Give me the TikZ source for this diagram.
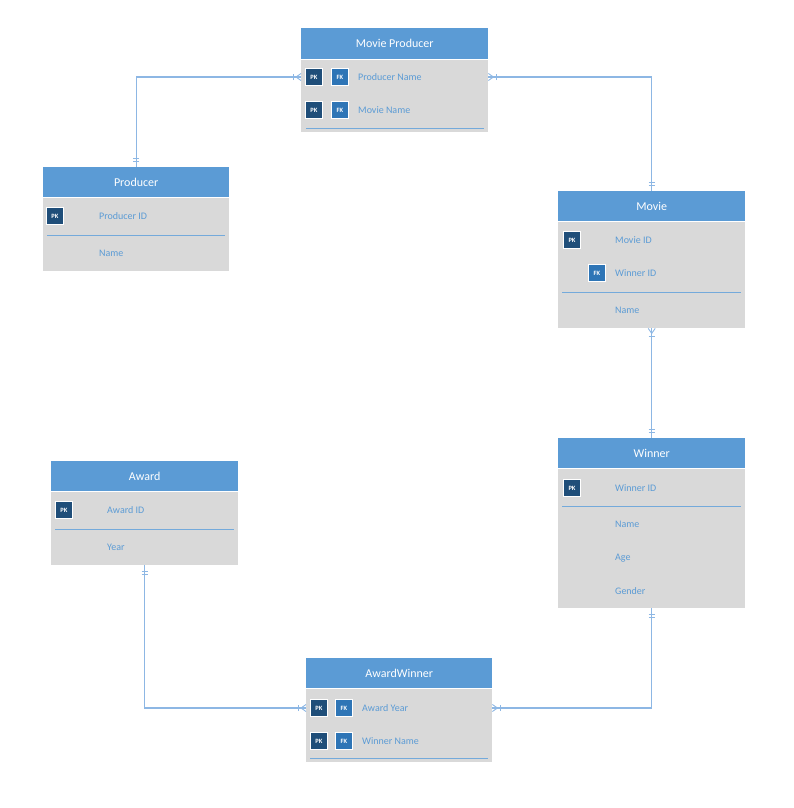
\documentclass[tikz,border=0pt]{standalone}
\usepackage{fontspec}
\setmainfont{Carlito}
\usetikzlibrary{decorations.markings}
\definecolor{headblue}{HTML}{5B9BD5}
\definecolor{bodygray}{HTML}{D9D9D9}
\definecolor{pkblue}{HTML}{1F4E79}
\definecolor{fkblue}{HTML}{2E75B6}
\definecolor{fieldblue}{HTML}{5B9BD5}
\definecolor{linkblue}{HTML}{8DB7E4}
\tikzset{
    tbl-head/.style = {fill=headblue, text=white, anchor=north west, inner sep=0pt, minimum width=187pt, minimum height=31pt, font=\fontsize{12}{14}\selectfont},
    tbl-body/.style = {fill=bodygray, anchor=north west, inner sep=0pt, minimum width=187pt},
    pk/.style = {fill=pkblue, draw=white, line width=0.8pt, minimum size=17pt, inner sep=0pt, text=white, font=\fontsize{6.5}{6.5}\selectfont\bfseries},
    fk/.style = {pk, fill=fkblue},
    field/.style = {anchor=west, inner sep=0pt, text=fieldblue, font=\fontsize{10}{12}\selectfont},
    sep-line/.style = {draw=fieldblue!85, line width=0.5pt},
    link/.style = {draw=linkblue, line width=1.4pt},
    foot/.style = {draw=linkblue, line width=0.9pt},
    one start/.style = {postaction={decorate, decoration={markings,
        mark=at position 6pt with {\draw[foot] (0,-3pt) -- (0,3pt);},
        mark=at position 9pt with {\draw[foot] (0,-3pt) -- (0,3pt);}}}},
    one end/.style = {postaction={decorate, decoration={markings,
        mark=at position -9pt with {\draw[foot] (0,-3pt) -- (0,3pt);},
        mark=at position -6pt with {\draw[foot] (0,-3pt) -- (0,3pt);}}}},
    many start/.style = {postaction={decorate, decoration={markings,
        mark=at position 5pt with {\draw[foot] (-5pt,-3.5pt) -- (0,0) -- (-5pt,3.5pt);},
        mark=at position 8pt with {\draw[foot] (0,-3pt) -- (0,3pt);}}}},
    many end/.style = {postaction={decorate, decoration={markings,
        mark=at position -8pt with {\draw[foot] (0,-3pt) -- (0,3pt);},
        mark=at position -5pt with {\draw[foot] (5pt,-3.5pt) -- (0,0) -- (5pt,3.5pt);}}}},
}

\begin{document}
\begin{tikzpicture}[x=1pt, y=-1pt]
\useasboundingbox (0,0) rectangle (793,808);

% Movie Producer
\node[tbl-head] (mp-head) at (301,28) {Movie Producer};
\node[tbl-body, minimum height=72pt] (mp-body) at (301,60) {};
\node[pk] (mp-pk1) at (314,77) {PK};
\node[fk] (mp-fk1) at (340,77) {FK};
\node[field] (mp-f1) at (358,77) {Producer Name};
\node[pk] (mp-pk2) at (314,110) {PK};
\node[fk] (mp-fk2) at (340,110) {FK};
\node[field] (mp-f2) at (358,110) {Movie Name};
\draw[sep-line] (306,128) -- (484,128);

% Producer
\node[tbl-head, minimum width=186pt, minimum height=30pt] (prod-head) at (43,167) {Producer};
\node[tbl-body, minimum width=186pt, minimum height=73pt] (prod-body) at (43,198) {};
\node[pk] (prod-pk) at (55,216) {PK};
\node[field] (prod-f1) at (99,216) {Producer ID};
\draw[sep-line] (47,235) -- (225,235);
\node[field] (prod-f2) at (99,253) {Name};

% Movie
\node[tbl-head, minimum height=30pt] (movie-head) at (558,191) {Movie};
\node[tbl-body, minimum height=106pt] (movie-body) at (558,222) {};
\node[pk] (movie-pk) at (572,240) {PK};
\node[field] (movie-f1) at (615,240) {Movie ID};
\node[fk] (movie-fk) at (597,273) {FK};
\node[field] (movie-f2) at (615,273) {Winner ID};
\draw[sep-line] (562,292) -- (741,292);
\node[field] (movie-f3) at (615,310) {Name};

% Winner
\node[tbl-head, minimum height=30pt] (winner-head) at (558,438) {Winner};
\node[tbl-body, minimum height=139pt] (winner-body) at (558,469) {};
\node[pk] (winner-pk) at (572,488) {PK};
\node[field] (winner-f1) at (615,488) {Winner ID};
\draw[sep-line] (562,506) -- (741,506);
\node[field] (winner-f2) at (615,524) {Name};
\node[field] (winner-f3) at (615,558) {Age};
\node[field] (winner-f4) at (615,591) {Gender};

% Award
\node[tbl-head, minimum height=30pt] (award-head) at (51,461) {Award};
\node[tbl-body, minimum height=73pt] (award-body) at (51,492) {};
\node[pk] (award-pk) at (64,510) {PK};
\node[field] (award-f1) at (107,510) {Award ID};
\draw[sep-line] (55,529) -- (234,529);
\node[field] (award-f2) at (107,547) {Year};

% AwardWinner
\node[tbl-head, minimum width=186pt, minimum height=30pt] (aw-head) at (306,658) {AwardWinner};
\node[tbl-body, minimum width=186pt, minimum height=73pt] (aw-body) at (306,689) {};
\node[pk] (aw-pk1) at (319,708) {PK};
\node[fk] (aw-fk1) at (344,708) {FK};
\node[field] (aw-f1) at (362,708) {Award Year};
\node[pk] (aw-pk2) at (319,741) {PK};
\node[fk] (aw-fk2) at (344,741) {FK};
\node[field] (aw-f2) at (362,741) {Winner Name};
\draw[sep-line] (310,758) -- (488,758);

% relations
\draw[link, one start, many end] (prod-head.north) |- (mp-body.west |- mp-f1);
\draw[link, many start, one end] (mp-body.east |- mp-f1) -| (movie-head.north);
\draw[link, many start, one end] (movie-body.south) -- (winner-head.north);
\draw[link, one start, many end] (award-body.south) |- (aw-body.west |- aw-f1);
\draw[link, one start, many end] (winner-body.south) |- (aw-body.east |- aw-f1);
\end{tikzpicture}
\end{document}
